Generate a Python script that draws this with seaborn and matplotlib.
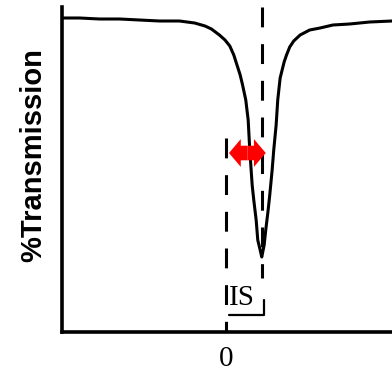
import matplotlib
matplotlib.use("Agg")
import matplotlib.pyplot as plt
import seaborn as sns
import pandas as pd

# velocity (mm/s) and transmission (%)
velocity = [-2.05, -1.83, -1.58, -1.33, -1.08, -0.83, -0.58, -0.39, -0.26, -0.18,
            -0.08, -0.01, 0.05, 0.10, 0.14, 0.18, 0.21, 0.25, 0.28, 0.30,
            0.33, 0.35, 0.38, 0.40, 0.43, 0.45, 0.48, 0.50, 0.53, 0.55,
            0.58, 0.60, 0.63, 0.65, 0.68, 0.73, 0.76, 0.80, 0.85, 0.93,
            1.05, 1.18, 1.34, 1.55, 1.80, 2.08]
transmission = [100.10, 100.10, 100.05, 100.05, 100.00, 99.95, 99.95, 99.85, 99.70, 99.55,
                99.25, 99.00, 98.70, 98.25, 97.75, 97.25, 96.75, 96.00, 95.00, 93.50,
                91.75, 91.00, 90.00, 89.00, 88.50, 88.15, 88.75, 89.50, 90.50, 91.25,
                92.50, 93.50, 94.75, 96.00, 97.10, 97.90, 98.25, 98.65, 98.95, 99.25,
                99.50, 99.60, 99.75, 99.80, 99.90, 99.95]
isomer_shift = 0.45
x_ticks = [0]
x_ticklabels = ["0"]

df = pd.DataFrame({"v": velocity, "T": transmission})

sns.set_style("white")
plt.rcParams['font.family'] = ['Liberation Sans', 'DejaVu Sans']
plt.rcParams['text.color'] = 'black'
plt.rcParams['axes.labelcolor'] = 'black'
plt.rcParams['xtick.color'] = 'black'

fig = plt.figure(figsize=(3.92, 3.71), dpi=100)
ax = fig.add_axes([62 / 392, 39 / 371, 330 / 392, 325 / 371])

sns.lineplot(data=df, x="v", y="T", color="black", lw=2.2, sort=False, ax=ax)

dash = (0, (6.5, 5.5))
ax.plot([0, 0], [94.1, 84.4], color="black", lw=2.2, linestyle=dash)
ax.plot([isomer_shift, isomer_shift], [100.65, 87.1], color="black", lw=2.2, linestyle=dash)

# red double arrow
mid = (0.04 + 0.5) / 2
for end in (0.04, 0.5):
    ax.annotate("", xy=(end, 93.35), xytext=(mid, 93.35),
                arrowprops=dict(arrowstyle="simple,head_length=0.85,head_width=2.0,tail_width=1.05",
                                mutation_scale=10, color="red", lw=0, shrinkA=0, shrinkB=0))

# IS bracket
ax.plot([0.04, 0.48, 0.48], [85.25, 85.25, 86.0], color="black", lw=1.6)
ax.text(0.035, 85.75, "IS", family="Liberation Serif", fontsize=21, ha="left", va="baseline",
        color="black")

ax.set_xlim(-2.05, 2.08)
ax.set_ylim(84.4, 100.65)
ax.set_xticks(x_ticks)
ax.set_xticklabels(x_ticklabels, family="Liberation Serif", fontsize=21, color="black")
ax.set_yticks([])
ax.tick_params(axis="x", length=0, pad=10)
ax.set_xlabel("")
ax.set_ylabel("%Transmission", fontsize=21, fontweight="bold", color="black")
ax.yaxis.set_label_coords(-0.045, 0.545)

for side in ("top", "right"):
    ax.spines[side].set_visible(False)
for side in ("left", "bottom"):
    ax.spines[side].set_linewidth(2.6)
    ax.spines[side].set_color("black")

fig.savefig("out.png", dpi=100)
